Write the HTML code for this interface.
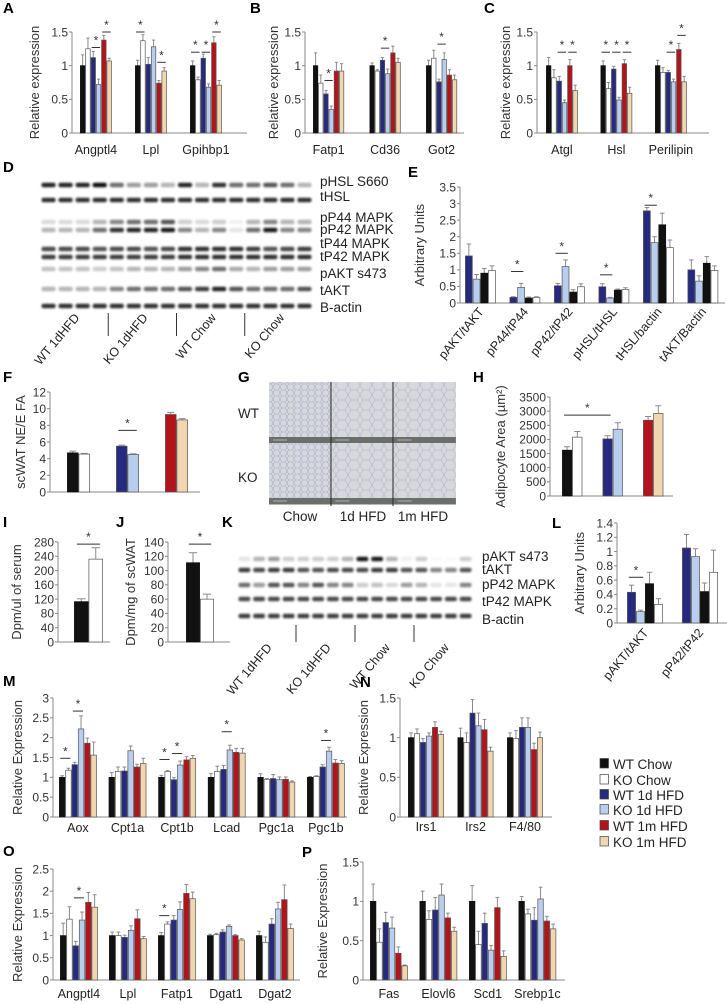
<!DOCTYPE html>
<html><head><meta charset="utf-8">
<style>
html,body{margin:0;padding:0;background:#fff;}
svg{display:block;font-family:"Liberation Sans",Arial,sans-serif;}
.tk{font-size:12px;fill:#333;}
.cat{font-size:12.5px;fill:#222;}
.ttl{font-size:13px;fill:#333;}
.let{font-size:15px;font-weight:bold;fill:#000;}
.bl{font-size:13.5px;fill:#222;}
</style></head>
<body>
<svg id="fig" width="727" height="1004" viewBox="0 0 727 1004" xmlns="http://www.w3.org/2000/svg">
<defs>
<filter id="blur" x="-20%" y="-100%" width="140%" height="300%"><feGaussianBlur stdDeviation="1.1"/></filter>
<pattern id="cells" width="12" height="10" patternUnits="userSpaceOnUse">
<rect width="12" height="10" fill="#d6d8dc"/>
<path d="M3 0 L9 0 L12 5 L9 10 L3 10 L0 5 Z" fill="none" stroke="#a8aac6" stroke-width="0.5"/>
</pattern>
<pattern id="cells2" width="7" height="6" patternUnits="userSpaceOnUse">
<rect width="7" height="6" fill="#d6d8dc"/>
<path d="M1.5 0 L5.5 0 L7 3 L5.5 6 L1.5 6 L0 3 Z" fill="none" stroke="#a4a6c8" stroke-width="0.5"/>
</pattern>
</defs>
</svg>
<script>
// ---------- DATA ----------
var C6 = ['#111111','#ffffff','#262a7f','#b9cdee','#b3141b','#f2d6b0'];
var C4 = ['#262a7f','#b9cdee','#111111','#ffffff'];

var aCats = ['Angptl4','Lpl','Gpihbp1'];
var aVals = [[1,1.25,1.12,0.72,1.38,1.07],[1,1.37,1.02,1.28,0.74,0.92],[1,0.79,1.11,0.68,1.34,0.71]];
var aErrs = [[0.16,0.16,0.09,0.08,0.07,0.04],[0.08,0.09,0.1,0.1,0.04,0.05],[0.07,0.04,0.06,0.05,0.09,0.07]];
var aTicks = [0,0.5,1,1.5];

var bCats = ['Fatp1','Cd36','Got2'];
var bVals = [[1,0.74,0.58,0.35,0.92,0.92],[1,0.92,1.08,0.88,1.19,1.05],[1,1.11,0.76,1.09,0.86,0.79]];
var bErrs = [[0.19,0.12,0.05,0.05,0.13,0.11],[0.04,0.02,0.04,0.07,0.1,0.06],[0.08,0.12,0.04,0.1,0.08,0.07]];

var cCats = ['Atgl','Hsl','Perilipin'];
var cVals = [[1,0.82,0.77,0.45,1.0,0.63],[1,0.66,0.95,0.49,1.03,0.59],[1,0.9,0.9,0.76,1.24,0.76]];
var cErrs = [[0.12,0.12,0.07,0.04,0.09,0.08],[0.07,0.09,0.04,0.04,0.06,0.09],[0.08,0.07,0.03,0.04,0.09,0.08]];

var eCats = ['pAKT/tAKT','pP44/tP44','pP42/tP42','pHSL/tHSL','tHSL/bactin','tAKT/Bactin'];
var eVals = [[1.42,0.72,0.9,0.98],[0.17,0.47,0.15,0.17],[0.52,1.1,0.33,0.49],[0.49,0.15,0.39,0.41],[2.78,1.82,2.36,1.67],[1.0,0.66,1.2,0.98]];
var eErrs = [[0.36,0.14,0.14,0.14],[0.02,0.12,0.03,0.02],[0.07,0.2,0.07,0.09],[0.09,0.02,0.03,0.05],[0.1,0.18,0.35,0.23],[0.3,0.16,0.2,0.14]];
var eTicks = [0,0.5,1,1.5,2,2.5,3,3.5];

var fVals = [[4.7,4.55],[5.5,4.5],[9.3,8.65]];
var fErrs = [[0.2,0.08],[0.12,0.08],[0.25,0.15]];
var fTicks = [0,2,4,6,8,10,12];

var hVals = [[1620,2080],[2020,2360],[2680,2920]];
var hErrs = [[120,200],[110,230],[130,270]];
var hTicks = [0,500,1000,1500,2000,2500,3000,3500];

var iVals = [[113,232]];
var iErrs = [[8,32]];
var iTicks = [0,40,80,120,160,200,240,280];

var jVals = [[111,60]];
var jErrs = [[14,7]];
var jTicks = [0,20,40,60,80,100,120,140];

var lCats = ['pAKT/tAKT','pP42/tP42'];
var lVals = [[0.43,0.16,0.55,0.26],[1.05,0.93,0.44,0.71]];
var lErrs = [[0.1,0.02,0.16,0.08],[0.19,0.11,0.12,0.31]];
var lTicks = [0,0.2,0.4,0.6,0.8,1,1.2,1.4];

var mCats = ['Aox','Cpt1a','Cpt1b','Lcad','Pgc1a','Pgc1b'];
var mVals = [[1,1.18,1.32,2.22,1.86,1.56],[1,1.15,1.16,1.67,1.26,1.35],[1,1.15,0.94,1.31,1.44,1.48],[1,1.15,1.2,1.69,1.63,1.61],[1,0.95,0.97,0.94,0.95,0.88],[1,1.02,1.26,1.66,1.36,1.35]];
var mErrs = [[0.04,0.05,0.06,0.33,0.13,0.33],[0.12,0.11,0.1,0.12,0.07,0.13],[0.05,0.02,0.05,0.1,0.08,0.07],[0.1,0.13,0.1,0.12,0.1,0.12],[0.09,0.02,0.1,0.07,0.06,0.03],[0.02,0.02,0.06,0.1,0.09,0.07]];
var mTicks = [0,0.5,1,1.5,2,2.5,3];

var nCats = ['Irs1','Irs2','F4/80'];
var nVals = [[1,1.05,0.94,1.02,1.13,1.04],[1,0.94,1.31,1.15,1.1,0.83],[1,0.99,1.13,1.13,0.85,1.0]];
var nErrs = [[0.06,0.06,0.05,0.04,0.07,0.04],[0.12,0.12,0.17,0.16,0.13,0.05],[0.06,0.1,0.12,0.12,0.08,0.07]];

var oCats = ['Angptl4','Lpl','Fatp1','Dgat1','Dgat2'];
var oVals = [[1,1.37,0.77,1.35,1.75,1.64],[1,1,0.96,1.12,1.38,0.93],[1,1.26,1.35,1.59,1.95,1.83],[1,1.02,1.08,1.21,1.0,0.9],[1,0.85,1.26,1.6,1.81,1.16]];
var oErrs = [[0.28,0.28,0.1,0.18,0.22,0.28],[0.08,0.08,0.05,0.1,0.2,0.05],[0.07,0.05,0.1,0.17,0.2,0.15],[0.03,0.03,0.05,0.03,0.02,0.03],[0.1,0.12,0.12,0.15,0.33,0.1]];
var oTicks = [0,0.5,1,1.5,2,2.5];

var pCats = ['Fas','Elovl6','Scd1','Srebp1c'];
var pVals = [[1,0.48,0.73,0.66,0.34,0.18],[1,0.77,0.89,1.08,0.79,0.62],[1,0.45,0.72,0.38,0.92,0.3],[1,0.84,0.76,1.03,0.75,0.65]];
var pErrs = [[0.22,0.17,0.13,0.14,0.08,0.01],[0.13,0.11,0.16,0.14,0.06,0.05],[0.2,0.17,0.13,0.06,0.13,0.07],[0.06,0.06,0.16,0.15,0.06,0.06]];
var relTicks = [0,0.5,1,1.5];

var legendLabels = ['WT Chow','KO Chow','WT 1d HFD','KO 1d HFD','WT 1m HFD','KO 1m HFD'];

var dRows = ['pHSL S660','tHSL','pP44 MAPK','pP42 MAPK','tP44 MAPK','tP42 MAPK','pAKT s473','tAKT','B-actin'];
var dBands = [
 [.9,.9,.9,1,.6,.4,.4,.3,.9,.3,.85,.6,.6,.7,.6,.3],
 [.85,.85,.85,.85,.85,.85,.85,.85,.85,.85,.85,.85,.85,.85,.85,.85],
 [.15,.15,.15,.3,.5,.6,.6,.7,.2,.15,.2,.05,.3,.5,.3,.3],
 [.3,.3,.3,.6,.85,.9,.9,.95,.5,.3,.5,.1,.6,.95,.5,.5],
 [.75,.75,.75,.7,.75,.75,.7,.75,.85,.85,.85,.85,.8,.7,.75,.8],
 [.8,.8,.8,.8,.8,.8,.8,.8,.85,.85,.85,.85,.85,.85,.85,.85],
 [.25,.25,.25,.2,.25,.3,.3,.3,.4,.5,.6,.35,.3,.4,.4,.4],
 [.3,.3,.3,.3,.5,.6,.6,.6,.7,.8,.9,.7,.6,.6,.6,.7],
 [.85,.85,.85,.85,.85,.85,.85,.85,.85,.85,.85,.85,.85,.85,.85,.85]];
var dGroups = ['WT 1dHFD','KO 1dHFD','WT Chow','KO Chow'];

var kRows = ['pAKT s473','tAKT','pP42 MAPK','tP42 MAPK','B-actin'];
var kBands = [
 [.1,.3,.4,.2,.2,.2,.2,.3,.95,.95,.3,.05,.2,.02,.02,.2],
 [.8,.75,.8,.8,.7,.7,.75,.75,.75,.8,.8,.7,.7,.5,.5,.7],
 [.6,.4,.7,.7,.5,.7,.5,.5,.2,.25,.15,.4,.3,.1,.1,.5],
 [.75,.75,.75,.75,.75,.75,.75,.75,.75,.75,.75,.75,.75,.75,.75,.75],
 [.8,.8,.8,.8,.8,.8,.8,.8,.8,.8,.8,.8,.8,.8,.8,.8]];

// ---------- HELPERS ----------
var svg = document.getElementById('fig');
var NS = 'http://www.w3.org/2000/svg';
function mk(tag, attrs, parent){
  var e = document.createElementNS(NS, tag);
  for (var k in attrs) e.setAttribute(k, attrs[k]);
  (parent||svg).appendChild(e);
  return e;
}
function txt(s, x, y, cls, parent, anchor){
  var t = mk('text', {x:x, y:y, 'class':cls, 'text-anchor':anchor||'start'}, parent);
  t.textContent = s;
  return t;
}
function letter(s, x, y){
  var t = txt(s, x, y, 'let');
  
  
}

function chart(o){
  var g = mk('g', {});
  
  
  var ys = function(v){ return o.y0 - v / o.max * (o.y0 - o.yTop); };
  var ax = mk('line', {x1:o.ax, y1:o.yTop, x2:o.ax, y2:o.y0, stroke:'#888', 'stroke-width':1}, g);
  
  
  var bl = mk('line', {x1:o.ax, y1:o.y0, x2:o.xEnd, y2:o.y0, stroke:'#888', 'stroke-width':1}, g);
  
  
  o.ticks.forEach(function(t){
    var y = ys(t);
    mk('line', {x1:o.ax-3, y1:y, x2:o.ax, y2:y, stroke:'#888', 'stroke-width':1}, g);
    var lab = txt(String(t), o.ax-4, y+4.3, 'tk', g, 'end');
    
    
  });
  if (o.title){
    var my = (o.y0 + o.yTop)/2;
    var tt = txt(o.title, o.titleX, my, 'ttl', g, 'middle');
    tt.setAttribute('transform', 'rotate(-90 ' + o.titleX + ' ' + my + ')');
    
    
  }
  o.vals.forEach(function(grp, gi){
    var gx = o.g0 + gi * o.gs;
    grp.forEach(function(v, i){
      var x = gx + i * o.bw;
      var col = o.cols[gi] && Array.isArray(o.cols[gi]) ? o.cols[gi][i] : o.cols[i];
      var err = o.errs[gi][i];
      var yt = ys(v), ye = ys(v + err);
      var cx = x + o.bw/2;
      var el = mk('line', {x1:cx, y1:yt, x2:cx, y2:ye, stroke:'#8a8a8a', 'stroke-width':1}, g);
      
      
      mk('line', {x1:cx-o.bw*0.3, y1:ye, x2:cx+o.bw*0.3, y2:ye, stroke:'#8a8a8a', 'stroke-width':1}, g);
      var r = mk('rect', {x:x+0.4, y:yt, width:o.bw-0.8, height:o.y0-yt, fill:col, stroke:(col=='#111111'?'#111':'#555'), 'stroke-width':0.7}, g);
      
      
    });
    if (o.cats){
      var ccx = gx + grp.length * o.bw / 2;
      var lab;
      if (o.rot){
        lab = txt(o.cats[gi], ccx + 4, o.labelY, 'cat', g, 'end');
        lab.setAttribute('transform', 'rotate(-50 ' + (ccx+4) + ' ' + o.labelY + ')');
      } else {
        lab = txt(o.cats[gi], ccx, o.labelY, 'cat', g, 'middle');
      }
      
      
    }
  });
  (o.stars||[]).forEach(function(s){
    var g2 = (s.length > 4) ? s[4] : s[0];
    var x1 = o.g0 + s[0]*o.gs + s[1]*o.bw + o.bw*0.2;
    var x2 = o.g0 + g2*o.gs + s[2]*o.bw + o.bw*0.8;
    var y = ys(s[3]);
    var sl = mk('line', {x1:x1, y1:y, x2:x2, y2:y, stroke:'#333', 'stroke-width':1}, g);
    
    
    var st = txt('*', (x1+x2)/2, y-3, 'tk', g, 'middle');
    
    
  });
}

function blot(o){
  var g = mk('g', {});
  
  
  var lw = (o.x1 - o.x0) / 16;
  o.bands.forEach(function(row, ri){
    var y = o.rowY[ri];
    row.forEach(function(v, li){
      var b = mk('rect', {x:o.x0 + li*lw + 1.5, y:y-2.3, width:lw-3, height:4.6, rx:2, fill:'#111', opacity:v, filter:'url(#blur)'}, g);
      
      
    });
  });
  o.labels.forEach(function(s, i){
    var t = txt(s, o.labX, o.labY[i], 'bl', g);
    
    
  });
  o.groups.forEach(function(s, i){
    var cx = o.x0 + (i*4 + 2) * lw + 6;
    var t = txt(s, cx, o.gY, 'cat', g, 'end');
    t.setAttribute('transform', 'rotate(-50 ' + cx + ' ' + o.gY + ')');
    
    
    if (i > 0){
      var dx = o.x0 + i*4*lw;
      var d = mk('line', {x1:dx, y1:o.divY0, x2:dx, y2:o.divY1, stroke:'#333', 'stroke-width':1}, g);
      
      
    }
  });
}

// ---------- PANELS ----------
letter('A', 3, 13); letter('B', 250, 13); letter('C', 484, 13);
chart({name:'chart-a', ax:72, y0:133, yTop:32, max:1.5, ticks:aTicks, xEnd:247, g0:80, gs:55, bw:5.3, cats:aCats, vals:aVals, errs:aErrs, cols:C6, labelY:154, title:'Relative expression', titleX:39,
  stars:[[0,2,3,1.27],[0,4,5,1.5],[1,0,1,1.5],[1,4,5,1.05],[2,0,1,1.2],[2,2,3,1.2],[2,4,5,1.5]]});
chart({name:'chart-b', ax:305, y0:133, yTop:32, max:1.5, ticks:aTicks, xEnd:464, g0:313, gs:56.5, bw:5.2, cats:bCats, vals:bVals, errs:bErrs, cols:C6, labelY:154, title:'Relative expression', titleX:278,
  stars:[[0,2,3,0.78],[1,2,3,1.26],[2,2,3,1.32]]});
chart({name:'chart-c', ax:537, y0:133, yTop:32, max:1.5, ticks:aTicks, xEnd:709, g0:546, gs:54.5, bw:5.3, cats:cCats, vals:cVals, errs:cErrs, cols:C6, labelY:154, title:'Relative expression', titleX:510,
  stars:[[0,2,3,1.2],[0,4,5,1.2],[1,0,1,1.2],[1,2,3,1.2],[1,4,5,1.2],[2,2,3,1.2],[2,4,5,1.45]]});

letter('D', 3, 172); letter('E', 408, 177);
blot({name:'blot-d', x0:40, x1:313, bands:dBands, rowY:[185,200,222,230,249,257,269,289,306], labels:dRows, labX:320,
  labY:[186,201,222,234,248,261,278,295,312], groups:dGroups, gY:318, divY0:313, divY1:336});
chart({name:'chart-e', ax:460, y0:303, yTop:187, max:3.5, ticks:eTicks, xEnd:725, g0:465, gs:44.5, bw:7.7, cats:eCats, vals:eVals, errs:eErrs, cols:C4, labelY:312, rot:true, title:'Arbitrary Units', titleX:424,
  stars:[[1,0,1,0.95],[2,0,1,1.5],[3,0,1,0.85],[4,0,1,2.95]]});

letter('F', 3, 382); letter('G', 238, 382); letter('H', 473, 382);
chart({name:'chart-f', ax:50, y0:492, yTop:392, max:12, ticks:fTicks, xEnd:200, g0:67, gs:49, bw:11.5, vals:fVals, errs:fErrs, cols:[['#111111','#ffffff'],['#262a7f','#b9cdee'],['#b3141b','#f2d6b0']], title:'scWAT NE/E FA', titleX:25,
  stars:[[1,0,1,7.4]]});

(function(){
  var g = mk('g', {});
  
  
  var fills = ['url(#cells2)','url(#cells)','url(#cells)'];
  for (var c=0;c<3;c++){
    for (var r=0;r<2;r++){
      var x = 269 + c*62.3, y = 382 + r*61;
      var im = mk('rect', {x:x, y:y, width:62.3, height:61, fill:fills[c]}, g);
      
      
      mk('rect', {x:x, y:y+55, width:62.3, height:6.5, fill:'#6b6f6c'}, g);
      mk('line', {x1:x+4, y1:y+58, x2:x+18, y2:y+58, stroke:'#ddd', 'stroke-width':0.6}, g);
    }
  }
  mk('line', {x1:331, y1:382, x2:331, y2:506, stroke:'#222', 'stroke-width':1}, g);
  mk('line', {x1:393, y1:382, x2:393, y2:506, stroke:'#222', 'stroke-width':1}, g);
  var t;
  t = txt('WT', 238, 418, 'bl', g);  
  t = txt('KO', 238, 482, 'bl', g);  
  var cl = ['Chow','1d HFD','1m HFD'], cxs = [300,363,423];
  for (var i=0;i<3;i++){ t = txt(cl[i], cxs[i], 521, 'bl', g, 'middle');   }
})();

chart({name:'chart-h', ax:550, y0:496, yTop:397, max:3500, ticks:hTicks, xEnd:673, g0:562, gs:40.5, bw:10.2, vals:hVals, errs:hErrs, cols:[['#111111','#ffffff'],['#262a7f','#b9cdee'],['#b3141b','#f2d6b0']], title:'Adipocyte Area (µm²)', titleX:505,
  stars:[[0,0,0,2860,1]]});

letter('I', 3, 527); letter('J', 116, 527); letter('K', 222, 527); letter('L', 552, 528);
chart({name:'chart-i', ax:58, y0:642, yTop:542, max:280, ticks:iTicks, xEnd:110, g0:74, gs:0, bw:14.5, vals:iVals, errs:iErrs, cols:[['#111111','#ffffff']], title:'Dpm/ul of serum', titleX:21,
  stars:[[0,0,1,274]]});
chart({name:'chart-j', ax:168, y0:642, yTop:542, max:140, ticks:jTicks, xEnd:230, g0:186, gs:0, bw:14, vals:jVals, errs:jErrs, cols:[['#111111','#ffffff']], title:'Dpm/mg of scWAT', titleX:135,
  stars:[[0,0,1,137]]});
blot({name:'blot-k', x0:237, x1:473, bands:kBands, rowY:[559,570,585,599,616], labels:kRows, labX:482,
  labY:[561,574,589,606,624], groups:dGroups, gY:648, divY0:625, divY1:642});
chart({name:'chart-l', ax:617, y0:623, yTop:523, max:1.4, ticks:lTicks, xEnd:727, g0:627, gs:55, bw:9, cats:lCats, vals:lVals, errs:lErrs, cols:C4, labelY:633, rot:true, title:'Arbitrary Units', titleX:584,
  stars:[[0,0,1,0.64]]});

letter('M', 3, 686); letter('N', 360, 687);
chart({name:'chart-m', ax:53, y0:817, yTop:698, max:3, ticks:mTicks, xEnd:347, g0:59, gs:49.6, bw:6.3, cats:mCats, vals:mVals, errs:mErrs, cols:C6, labelY:832, title:'Relative Expression', titleX:22,
  stars:[[0,0,1,1.48],[0,2,3,2.67],[2,0,1,1.45],[2,2,3,1.6],[3,2,3,2.15],[5,2,3,1.93]]});
chart({name:'chart-n', ax:400, y0:817, yTop:698, max:1.5, ticks:relTicks, xEnd:552, g0:408, gs:49.5, bw:6, cats:nCats, vals:nVals, errs:nErrs, cols:C6, labelY:831, title:'Relative Expression', titleX:368});

(function(){
  var g = mk('g', {});
  
  
  var ys = [765,781,796,811,827,843];
  legendLabels.forEach(function(s, i){
    var sw = mk('rect', {x:600, y:ys[i]-6.5, width:8.5, height:9.5, fill:C6[i], stroke:'#444', 'stroke-width':0.7}, g);
    
    
    var t = txt(s, 613, ys[i]+4, 'bl', g);
    
    
  });
})();

letter('O', 3, 856); letter('P', 302, 857);
chart({name:'chart-o', ax:53, y0:980, yTop:869, max:2.5, ticks:oTicks, xEnd:300, g0:60, gs:49, bw:6.3, cats:oCats, vals:oVals, errs:oErrs, cols:C6, labelY:998, title:'Relative Expression', titleX:22,
  stars:[[0,2,3,1.85],[2,0,1,1.45]]});
chart({name:'chart-p', ax:363, y0:980, yTop:862, max:1.5, ticks:relTicks, xEnd:565, g0:370, gs:49.5, bw:6.3, cats:pCats, vals:pVals, errs:pErrs, cols:C6, labelY:998, title:'Relative Expression', titleX:327});
</script>
</body></html>
